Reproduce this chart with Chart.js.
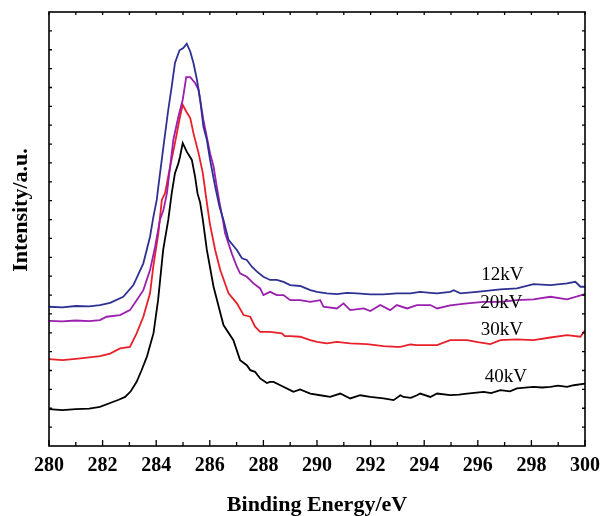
<!DOCTYPE html>
<html>
<head>
<meta charset="utf-8">
<script src="https://cdn.jsdelivr.net/npm/chart.js@4/dist/chart.umd.min.js"></script>
<style>
html,body{margin:0;padding:0;background:#fff;}
#wrap{width:602px;height:516px;position:relative;}
</style>
</head>
<body>
<div id="wrap"><canvas id="c" width="602" height="516"></canvas></div>
<script>
// Binding energy (eV) and intensity (a.u.)
const e40 = [280.0,280.5,281.0,281.5,281.9,282.28,282.6,282.84,283.05,283.27,283.45,283.65,283.9,284.07,284.26,284.45,284.58,284.7,284.83,284.89,284.99,285.14,285.33,285.45,285.54,285.64,285.74,285.89,286.14,286.51,286.88,287.13,287.38,287.51,287.69,287.88,288.13,288.25,288.38,288.63,289.0,289.12,289.37,289.75,290.12,290.49,290.87,291.24,291.61,291.99,292.48,292.86,293.11,293.23,293.5,293.73,293.85,294.23,294.48,294.97,295.3,295.6,296.22,296.5,296.84,297.2,297.46,298.08,298.4,298.71,299.0,299.33,299.58,300.0];
const i40 = [1.95,1.9,1.95,1.98,2.07,2.28,2.45,2.6,2.9,3.4,4.0,4.72,5.98,7.73,10.39,11.98,13.4,14.46,14.99,15.34,16.05,15.6,15.16,14.28,13.4,12.9,11.98,10.39,8.44,6.41,5.61,4.55,4.28,4.02,3.93,3.58,3.34,3.4,3.4,3.22,2.96,2.87,3.0,2.78,2.69,2.6,2.78,2.52,2.69,2.6,2.52,2.43,2.69,2.6,2.55,2.69,2.78,2.6,2.78,2.7,2.72,2.78,2.87,2.8,2.96,2.9,3.05,3.13,3.1,3.13,3.2,3.13,3.22,3.31];

const e30 = [280.0,280.5,281.0,281.5,281.9,282.28,282.65,283.02,283.27,283.52,283.77,283.89,284.08,284.21,284.33,284.52,284.7,284.89,284.99,285.12,285.27,285.39,285.58,285.74,285.86,286.0,286.2,286.39,286.7,287.01,287.26,287.51,287.69,287.88,288.25,288.69,288.8,289.0,289.37,289.75,290.0,290.37,290.74,291.24,291.86,292.48,292.98,293.11,293.48,293.73,293.98,294.35,294.48,294.97,295.6,296.0,296.47,296.84,297.46,298.08,298.71,299.33,299.83,300.0];
const i30 = [4.6,4.55,4.62,4.7,4.76,4.9,5.17,5.25,5.97,6.85,8.09,9.5,11.27,13.04,13.4,14.81,16.05,17.46,18.08,17.73,17.38,16.58,15.52,14.46,13.2,11.8,10.39,9.33,8.09,7.56,6.94,6.85,6.32,6.05,6.05,5.97,5.82,5.82,5.79,5.61,5.52,5.44,5.52,5.44,5.4,5.29,5.25,5.25,5.38,5.35,5.35,5.35,5.35,5.61,5.61,5.5,5.4,5.61,5.65,5.61,5.75,5.88,5.79,6.14];

const e20 = [280.0,280.5,281.0,281.5,281.9,282.15,282.65,283.02,283.27,283.52,283.77,283.96,284.14,284.27,284.4,284.52,284.64,284.83,284.99,285.12,285.27,285.45,285.58,285.64,285.76,285.86,286.01,286.14,286.26,286.39,286.49,286.57,286.82,287.01,287.13,287.38,287.51,287.63,287.88,288.0,288.25,288.5,288.75,289.0,289.37,289.75,290.12,290.24,290.74,290.99,291.24,291.74,291.99,292.36,292.73,292.98,293.36,293.73,294.23,294.48,294.97,295.6,296.22,296.84,297.46,298.08,298.71,299.33,300.0];
const i20 = [6.63,6.6,6.65,6.62,6.67,6.85,6.94,7.2,7.73,8.26,9.33,10.56,11.98,12.5,13.4,14.81,16.23,17.46,18.35,19.55,19.55,19.24,18.88,18.35,17.29,16.58,15.52,14.81,13.75,12.69,11.98,11.27,10.21,9.5,9.15,8.97,8.79,8.62,8.35,8.0,8.17,8.0,8.0,7.73,7.73,7.64,7.73,7.38,7.29,7.56,7.2,7.29,7.15,7.47,7.2,7.47,7.29,7.47,7.47,7.29,7.45,7.56,7.64,7.64,7.73,7.77,7.91,7.77,8.05];

const e12 = [280.0,280.5,281.0,281.5,281.9,282.28,282.77,283.15,283.52,283.77,283.89,284.02,284.08,284.27,284.45,284.58,284.7,284.87,285.01,285.14,285.27,285.39,285.52,285.64,285.76,285.89,286.01,286.2,286.36,286.51,286.7,287.01,287.2,287.38,287.57,287.76,288.0,288.25,288.5,288.75,289.0,289.37,289.75,290.0,290.37,290.74,291.12,291.49,291.99,292.48,292.98,293.48,293.85,294.23,294.48,294.97,295.1,295.35,295.97,296.84,297.46,298.08,298.71,299.33,299.64,299.83,300.0];
const i12 = [7.38,7.35,7.42,7.4,7.47,7.59,7.91,8.53,9.68,11.09,12.1,13.04,13.75,15.87,17.82,19.06,20.3,20.97,21.09,21.32,20.91,20.3,19.41,18.35,16.93,16.23,15.17,13.75,12.69,11.98,10.92,10.39,9.95,9.86,9.5,9.24,8.97,8.8,8.8,8.7,8.53,8.48,8.26,8.17,8.09,8.05,8.12,8.09,8.04,8.04,8.09,8.09,8.17,8.12,8.09,8.17,8.26,8.09,8.17,8.3,8.35,8.58,8.53,8.62,8.7,8.44,8.44];

const seriesNames = ["12kV","20kV","30kV","40kV"];
const xTicks = [280,282,284,286,288,290,292,294,296,298,300];
// label anchors in data units (energy, intensity)
const labelE = [296.92,296.88,296.9,297.05];
const labelI = [8.8,7.31,5.88,3.38];

const colors = ["#2e3192","#9a1fae","#e8202a","#000000"];
const energies = [e12,e20,e30,e40];
const intens = [i12,i20,i30,i40];

const datasets = seriesNames.map((n,k)=>({
  label:n,
  data: energies[k].map((x,j)=>({x:x,y:intens[k][j]})),
  borderColor: colors[k],
  borderWidth: 1.8,
  pointRadius: 0,
  tension: 0,
  fill: false
}));

const serif = "'Liberation Serif','Times New Roman',serif";

const decor = {
  id:'decor',
  afterDraw(chart){
    const ctx = chart.ctx, a = chart.chartArea;
    const xs = chart.scales.x, ys = chart.scales.y;
    ctx.save();
    ctx.strokeStyle = '#000';
    ctx.lineWidth = 1.6;
    ctx.strokeRect(a.left, a.top, a.right-a.left, a.bottom-a.top);
    ctx.lineWidth = 1.3;
    ctx.beginPath();
    for(let v=280; v<=300; v+=1){
      const px = xs.getPixelForValue(v);
      const major = (v%2===0);
      ctx.moveTo(px, a.bottom); ctx.lineTo(px, a.bottom-(major?6:4));
      ctx.moveTo(px, a.top); ctx.lineTo(px, a.top+3);
    }
    for(let v=1; v<23; v+=1){
      const py = ys.getPixelForValue(v);
      ctx.moveTo(a.left, py); ctx.lineTo(a.left+3, py);
      ctx.moveTo(a.right, py); ctx.lineTo(a.right-3, py);
    }
    ctx.stroke();
    // series labels
    ctx.fillStyle = '#000';
    ctx.font = "19px " + serif;
    ctx.textAlign = 'center';
    ctx.textBaseline = 'alphabetic';
    seriesNames.forEach((n,k)=>{
      ctx.fillText(n, xs.getPixelForValue(labelE[k]), ys.getPixelForValue(labelI[k]));
    });
    // y title
    ctx.font = "bold 22px " + serif;
    ctx.translate(21, 210);
    ctx.rotate(-Math.PI/2);
    ctx.textBaseline = 'middle';
    ctx.fillText("Intensity/a.u.", 0, 0);
    ctx.restore();
  }
};

new Chart(document.getElementById('c'), {
  type:'line',
  data:{datasets},
  options:{
    responsive:false,
    animation:false,
    layout:{padding:{left:49,right:17,top:12,bottom:0}},
    plugins:{legend:{display:false},tooltip:{enabled:false}},
    scales:{
      x:{
        type:'linear', min:280, max:300,
        afterBuildTicks(s){ s.ticks = xTicks.map(v=>({value:v})); },
        afterFit(s){ s.height = 70; s.paddingLeft = 0; s.paddingRight = 0; },
        grid:{display:false, drawTicks:false},
        border:{display:false},
        ticks:{color:'#000', padding:8, maxRotation:0, font:{family:serif, size:20, weight:'bold'}},
        title:{display:true, text:'Binding Energy/eV', color:'#000', padding:{top:0,bottom:-3}, font:{family:serif, size:22, weight:'bold'}}
      },
      y:{
        display:false, min:0, max:23
      }
    }
  },
  plugins:[decor]
});
</script>
</body>
</html>
